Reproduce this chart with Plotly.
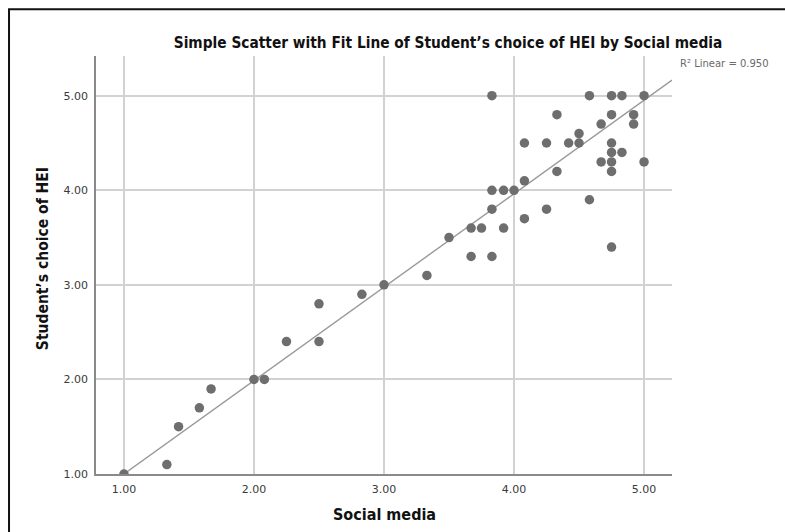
import numpy as np
import plotly.graph_objects as go

# Survey scores: mean Social media score vs. Student's choice of HEI
social_media = [1.00, 1.33, 1.42, 1.58, 1.67, 2.00, 2.08, 2.25, 2.50, 2.50,
                2.83, 3.00, 3.33, 3.50, 3.67, 3.67, 3.75, 3.83, 3.83, 3.83,
                3.83, 3.92, 3.92, 4.00, 4.08, 4.08, 4.08, 4.25, 4.25, 4.33,
                4.33, 4.42, 4.50, 4.50, 4.58, 4.58, 4.67, 4.67, 4.75, 4.75,
                4.75, 4.75, 4.75, 4.75, 4.75, 4.83, 4.83, 4.92, 4.92, 5.00,
                5.00]
hei_choice = [1.0, 1.1, 1.5, 1.7, 1.9, 2.0, 2.0, 2.4, 2.4, 2.8,
              2.9, 3.0, 3.1, 3.5, 3.6, 3.3, 3.6, 3.3, 3.8, 4.0,
              5.0, 3.6, 4.0, 4.0, 3.7, 4.1, 4.5, 3.8, 4.5, 4.2,
              4.8, 4.5, 4.5, 4.6, 3.9, 5.0, 4.3, 4.7, 3.4, 4.2,
              4.3, 4.4, 4.5, 4.8, 5.0, 4.4, 5.0, 4.7, 4.8, 4.3,
              5.0]

# Linear fit reported for the full sample (many respondents overlap)
fit_intercept = 0.012
fit_slope = 0.988
r2_label = "R\u00b2 Linear = 0.950"

tick_vals = [1, 2, 3, 4, 5]
tick_text = ["1.00", "2.00", "3.00", "4.00", "5.00"]
x_range = [0.785, 5.215]
y_range = [1.0, 5.42]

# Fit line drawn across the x-axis span
fit_x = np.array(x_range)
fit_y = fit_intercept + fit_slope * fit_x

fig = go.Figure()
fig.add_trace(go.Scatter(
    x=fit_x, y=fit_y, mode="lines",
    line=dict(color="#9a9a9a", width=1.4),
    hoverinfo="skip", showlegend=False,
))
fig.add_trace(go.Scatter(
    x=social_media, y=hei_choice, mode="markers",
    marker=dict(color="#6e6e6e", size=9.5, line=dict(width=0)),
    showlegend=False,
))

axis_common = dict(
    showgrid=True, gridcolor="#d2d2d2", gridwidth=1.5,
    showline=True, linecolor="#8a8a8a", linewidth=1.5,
    zeroline=False, ticks="", tickvals=tick_vals, ticktext=tick_text,
    tickfont=dict(family="DejaVu Sans", size=11, color="#3a3a3a"),
)

fig.update_xaxes(range=x_range, ticklabelstandoff=4, **axis_common)
fig.update_yaxes(range=y_range, ticklabelstandoff=4, **axis_common)

fig.update_layout(
    width=785, height=532,
    margin=dict(l=96, r=113, t=56, b=58),
    paper_bgcolor="white", plot_bgcolor="white",
    title=dict(
        text="Simple Scatter with Fit Line of Student\u2019s choice of HEI by Social media",
        x=448 / 785, xref="container", xanchor="center",
        y=1 - 43 / 532, yref="container", yanchor="middle",
        font=dict(family="DejaVu Sans Condensed", size=15.3, color="#111111",
                  weight="bold"),
    ),
    annotations=[
        dict(text=r2_label, xref="paper", yref="paper",
             x=1.0104, y=0.983, xanchor="left", yanchor="middle",
             showarrow=False,
             font=dict(family="DejaVu Sans", size=10, color="#6a6a6a")),
        dict(text="Social media", xref="paper", yref="paper",
             x=0.5, y=-0.098, xanchor="center", yanchor="middle",
             showarrow=False,
             font=dict(family="DejaVu Sans Condensed", size=16,
                       color="#111111", weight="bold")),
        dict(text="Student\u2019s choice of HEI", xref="paper", yref="paper",
             x=-0.092, y=0.514, xanchor="center", yanchor="middle",
             textangle=-90, showarrow=False,
             font=dict(family="DejaVu Sans Condensed", size=15.5,
                       color="#111111", weight="bold")),
    ],
    shapes=[
        dict(type="rect", xref="paper", yref="paper",
             x0=-0.151, x1=1.25, y0=-0.2, y1=1.112,
             line=dict(color="#111111", width=2), layer="below"),
    ],
)

fig.write_html("out.html")
